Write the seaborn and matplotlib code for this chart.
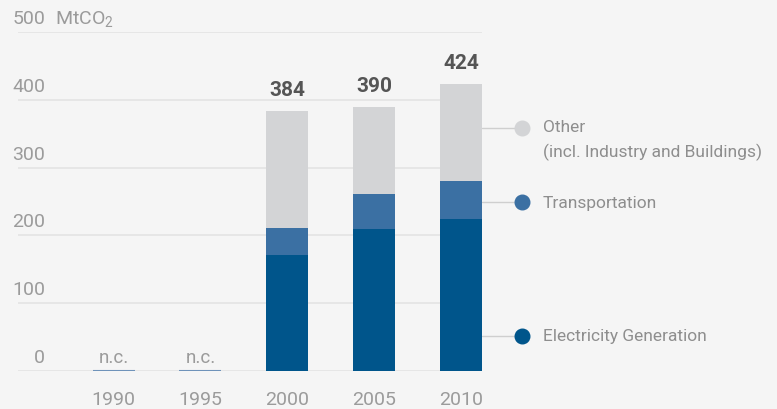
import matplotlib
matplotlib.use("Agg")
import matplotlib.pyplot as plt
import matplotlib.transforms as mtrans
import seaborn as sns
import pandas as pd

years = ["1990", "1995", "2000", "2005", "2010"]
data_years = ["2000", "2005", "2010"]
nc_years = ["1990", "1995"]
electricity = [171, 209, 224]
transportation = [40, 52, 56]
other = [173, 129, 144]
totals = [384, 390, 424]
y_ticks = [0, 100, 200, 300, 400, 500]
unit = "MtCO$_2$"
legend_labels = ["Other\n(incl. Industry and Buildings)", "Transportation", "Electricity Generation"]

BG = "#f5f5f5"
C_ELEC = "#00558b"
C_TRANS = "#3b70a3"
C_OTHER = "#d3d4d6"
GRID = "#e4e4e4"
TICK = "#9b9b9b"
LEG = "#8e8e8e"
VAL = "#555555"

sns.set_theme(style="white")
FONT = ["Roboto", "DejaVu Sans"]
plt.rcParams["font.family"] = FONT
plt.rcParams["mathtext.fontset"] = "custom"
plt.rcParams["mathtext.rm"] = "Roboto"
plt.rcParams["mathtext.it"] = "Roboto"

fig = plt.figure(figsize=(7.77, 4.10), dpi=100, facecolor=BG)
ax = fig.add_axes([18 / 777, 38 / 410, 464 / 777, 339 / 410])
ax.set_facecolor(BG)

df = pd.DataFrame({
    "year": data_years,
    "elec": electricity,
    "trans": transportation,
    "other": other,
})
df["cum_trans"] = df["elec"] + df["trans"]
df["cum_other"] = df["cum_trans"] + df["other"]

W = 0.483
for col, c in [("cum_other", C_OTHER), ("cum_trans", C_TRANS), ("elec", C_ELEC)]:
    sns.barplot(data=df, x="year", y=col, order=years, color=c, width=W,
                saturation=1, linewidth=0, ax=ax, zorder=3, errorbar=None)

ax.set_xlim(-1.1, 4 + W / 2)
ax.set_ylim(0, 500)

# gridlines
for t in y_ticks:
    ax.axhline(t, color=GRID, lw=1.2, zorder=1)

for s in ax.spines.values():
    s.set_visible(False)
ax.set_yticks([])
ax.set_ylabel("")
ax.set_xlabel("")
ax.set_xticks(range(len(years)))
ax.set_xticklabels(years, color=TICK, fontsize=14)
ax.tick_params(axis="x", length=0, pad=14)

# y labels (above gridlines)
lab_tr = mtrans.blended_transform_factory(fig.transFigure, ax.transData)
off = mtrans.ScaledTranslation(0, 9 / 100, fig.dpi_scale_trans)
for t in y_ticks:
    ax.text(45 / 777, t, str(t), transform=lab_tr + off, ha="right", va="baseline",
            color=TICK, fontsize=14)
ax.text(55 / 777, 500, unit, transform=lab_tr + off, ha="left", va="baseline",
        color=TICK, fontsize=14)

# n.c. markers
for y in nc_years:
    i = years.index(y)
    ax.plot([i - W / 2, i + W / 2], [0, 0], color="#6f93ba", lw=1.5, zorder=4,
            solid_capstyle="butt")
    ax.annotate("n.c.", (i, 0), xytext=(0, 9), textcoords="offset pixels",
                ha="center", va="baseline", color=TICK, fontsize=13.5)

# value labels
for y, tot in zip(data_years, totals):
    i = years.index(y)
    ax.annotate(str(tot), (i, tot), xytext=(0, 16), textcoords="offset pixels",
                ha="center", va="baseline", color=VAL, fontsize=15, fontweight="bold")

# legend with leader lines
leg_y = [358, 249, 52]
leg_c = [C_OTHER, C_TRANS, C_ELEC]
x_bar = 4 + W / 2
x_dot = x_bar + (522 - 482) / 86.87
x_txt = x_bar + (543 - 482) / 86.87
for ly, lc, lt in zip(leg_y, leg_c, legend_labels):
    ax.plot([x_bar, x_dot], [ly, ly], color="#cfcfcf", lw=1, clip_on=False, zorder=2)
    ax.plot([x_dot], [ly], "o", ms=10.5, color=lc, clip_on=False, zorder=5)
    multi = "\n" in lt
    ax.text(x_txt, ly, lt, ha="left", va="top" if multi else "center",
            color=LEG, fontsize=12.5, linespacing=1.65,
            transform=ax.transData + mtrans.ScaledTranslation(0, 9 / 100 if multi else 0, fig.dpi_scale_trans))

fig.savefig("out.png", dpi=100, facecolor=BG)
